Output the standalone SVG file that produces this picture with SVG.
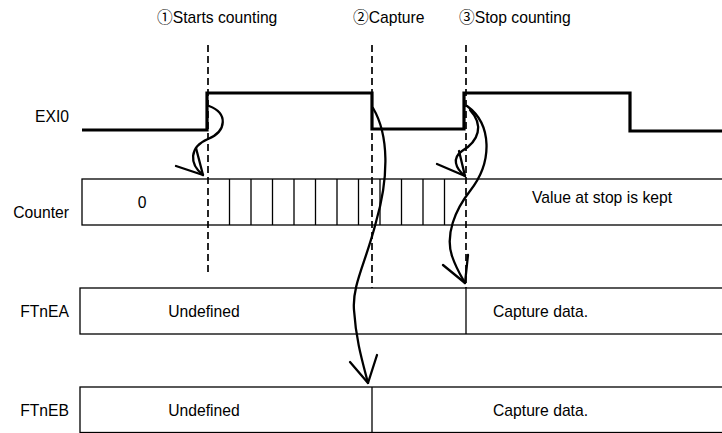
<svg xmlns="http://www.w3.org/2000/svg" width="722" height="433" viewBox="0 0 722 433">
<defs>
<style>
text{font-family:"Liberation Sans","Noto Sans CJK JP",Arial,sans-serif;font-size:15.7px;fill:#000}
.lbl{text-anchor:end}
.mid{text-anchor:middle}
.box{fill:#fff;stroke:#000;stroke-width:1.3}
.tick{stroke:#000;stroke-width:1.3;fill:none}
.dash{stroke:#000;stroke-width:1.7;stroke-dasharray:7 4;fill:none}
.wave{stroke:#000;stroke-width:3.2;fill:none;stroke-linejoin:miter}
.curve{stroke:#000;stroke-width:2.3;fill:none;stroke-linecap:round;stroke-linejoin:round}
</style>
</defs>
<rect width="722" height="433" fill="#fff"/>

<g id="titles">
<text x="157" y="23">①Starts counting</text>
<text x="353" y="23">②Capture</text>
<text x="459" y="23">③Stop counting</text>
</g>

<g id="exi0">
<text class="lbl" x="69" y="122">EXI0</text>
<path class="wave" d="M82,130 H207 V93 H372 V129 H464 V93 H630 V131 H724"/>
</g>

<g id="counter">
<text class="lbl" x="69" y="218">Counter</text>
<rect class="box" x="82" y="179" width="660" height="46"/>
<path class="tick" d="M229.5,179V225M251,179V225M272.5,179V225M294,179V225M315.5,179V225M337,179V225M358.5,179V225M380,179V225M401.5,179V225M423,179V225M444.5,179V225"/>
<text class="mid" x="142" y="208">0</text>
<text class="mid" x="602" y="203">Value at stop is kept</text>
</g>

<g id="ftnea">
<text class="lbl" x="69" y="317">FTnEA</text>
<rect class="box" x="80" y="288" width="662" height="46"/>
<line class="tick" x1="466" y1="288" x2="466" y2="334"/>
<text class="mid" x="204" y="317">Undefined</text>
<text x="493" y="317">Capture data.</text>
</g>

<g id="ftneb">
<text class="lbl" x="69" y="415.5">FTnEB</text>
<rect class="box" x="80" y="387" width="662" height="45.5"/>
<line class="tick" x1="372" y1="387" x2="372" y2="433"/>
<text class="mid" x="204" y="415.5">Undefined</text>
<text x="493" y="415.5">Capture data.</text>
</g>

<g id="connectors">
<line class="dash" x1="208" y1="45" x2="208" y2="276"/>
<line class="dash" x1="372" y1="45" x2="372" y2="288"/>
<line class="dash" x1="466" y1="45" x2="466" y2="288"/>
<path class="curve" d="M209,106 C228,113 227,131 208,139 C189,147 189,164 203,175"/>
<path class="curve" d="M176,166 L203,175 L196,148"/>
<path class="curve" d="M373,108 C389,135 389,177 376,222 C366,262 352,285 354,310 C356,340 362,360 368,383"/>
<path class="curve" d="M350,362 L368,383 L377,355"/>
<path class="curve" d="M467,106 C492,124 493,162 470,191 C455,210 445,235 452,256 C456,268 461,276 465,283"/>
<path class="curve" d="M443,265 L465,283 L468,255"/>
<path class="curve" d="M470,110 C484,125 479,141 462,151 C452,158 455,168 465,176"/>
<path class="curve" d="M437,164 L465,176 L459,151"/>
</g>
</svg>
